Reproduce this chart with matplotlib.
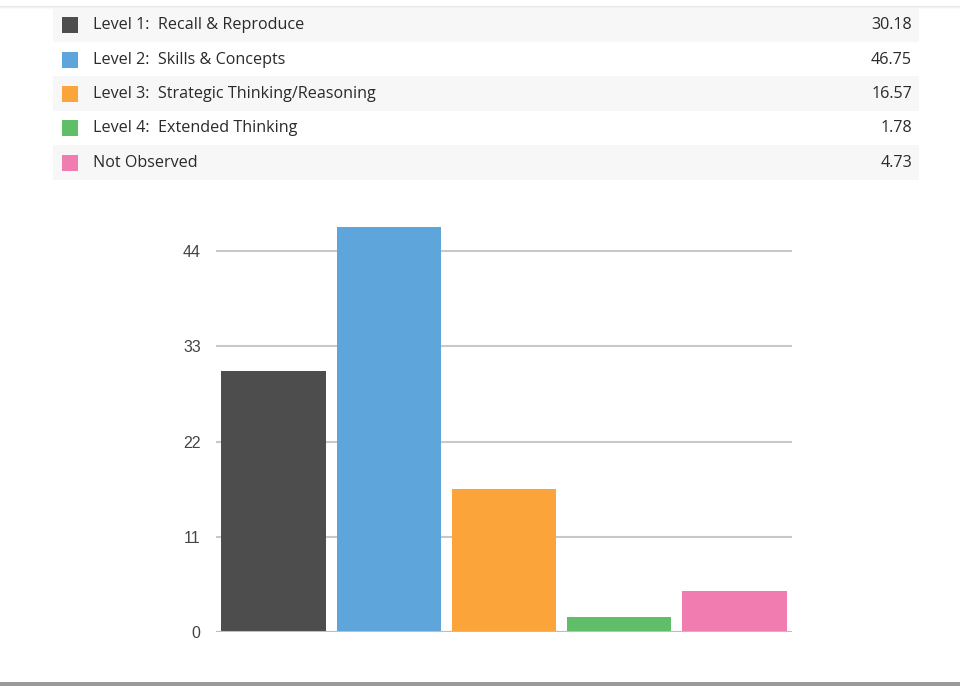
import matplotlib.pyplot as plt
from matplotlib.patches import Rectangle

# data
labels = ["Level 1:  Recall & Reproduce", "Level 2:  Skills & Concepts",
          "Level 3:  Strategic Thinking/Reasoning", "Level 4:  Extended Thinking",
          "Not Observed"]
values = [30.18, 46.75, 16.57, 1.78, 4.73]
colors = ["#4d4d4d", "#5da5da", "#faa43a", "#60bd68", "#f17cb0"]
y_ticks = [0, 11, 22, 33, 44]

W, H = 960, 686
fig = plt.figure(figsize=(W / 100, H / 100), dpi=100)

# background layer in pixel coordinates for the summary table
bg = fig.add_axes([0, 0, 1, 1])
bg.set_xlim(0, W)
bg.set_ylim(H, 0)
bg.axis("off")

# top divider with a soft shadow
for i, a in enumerate([0.35, 0.18, 0.08]):
    bg.add_patch(Rectangle((0, 6 + i), W, 1, color="#bbbbbb", alpha=a, lw=0))
bg.add_patch(Rectangle((0, 682), W, 4, color="#9a9a9a", lw=0))

row_h = 34.4
top = 7.5
for i, (lab, val, col) in enumerate(zip(labels, values, colors)):
    y0 = top + i * row_h
    yc = y0 + row_h / 2
    if i % 2 == 0:
        bg.add_patch(Rectangle((53, y0), 866, row_h, color="#f7f7f7", lw=0))
    bg.add_patch(Rectangle((62, yc - 7.5), 16, 16, color=col, lw=0))
    bg.text(93, yc + 0.5, lab, fontsize=11.6, family="Open Sans", color="#2a2a2a",
            va="center", ha="left")
    bg.text(912, yc + 0.5, f"{val:.2f}", fontsize=11.6, family="Open Sans",
            color="#2a2a2a", va="center", ha="right")

# bar chart
left, right = 216, 792
y_zero, y_top = 632, 205
ax = fig.add_axes([left / W, 1 - y_zero / H, (right - left) / W, (y_zero - y_top) / H])
ax.set_facecolor("none")
x = list(range(len(values)))
ax.bar(x, values, width=0.905, color=colors, zorder=3)
ax.set_xlim(-0.5, len(values) - 0.5)
ax.set_ylim(0, 44 * (y_zero - y_top) / (y_zero - 251))
ax.set_yticks(y_ticks)
ax.set_yticklabels([str(t) for t in y_ticks], family="Liberation Sans",
                   fontsize=11.5, color="#444444")
ax.tick_params(axis="y", length=0, pad=11)
ax.set_xticks([])
ax.grid(axis="y", color="#c8c8c8", lw=1.5, zorder=1)
for s in ["top", "right", "left", "bottom"]:
    ax.spines[s].set_visible(False)
ax.axhline(0, color="#bdbdbd", lw=1.5, zorder=4)

fig.savefig("out.png", dpi=100)
